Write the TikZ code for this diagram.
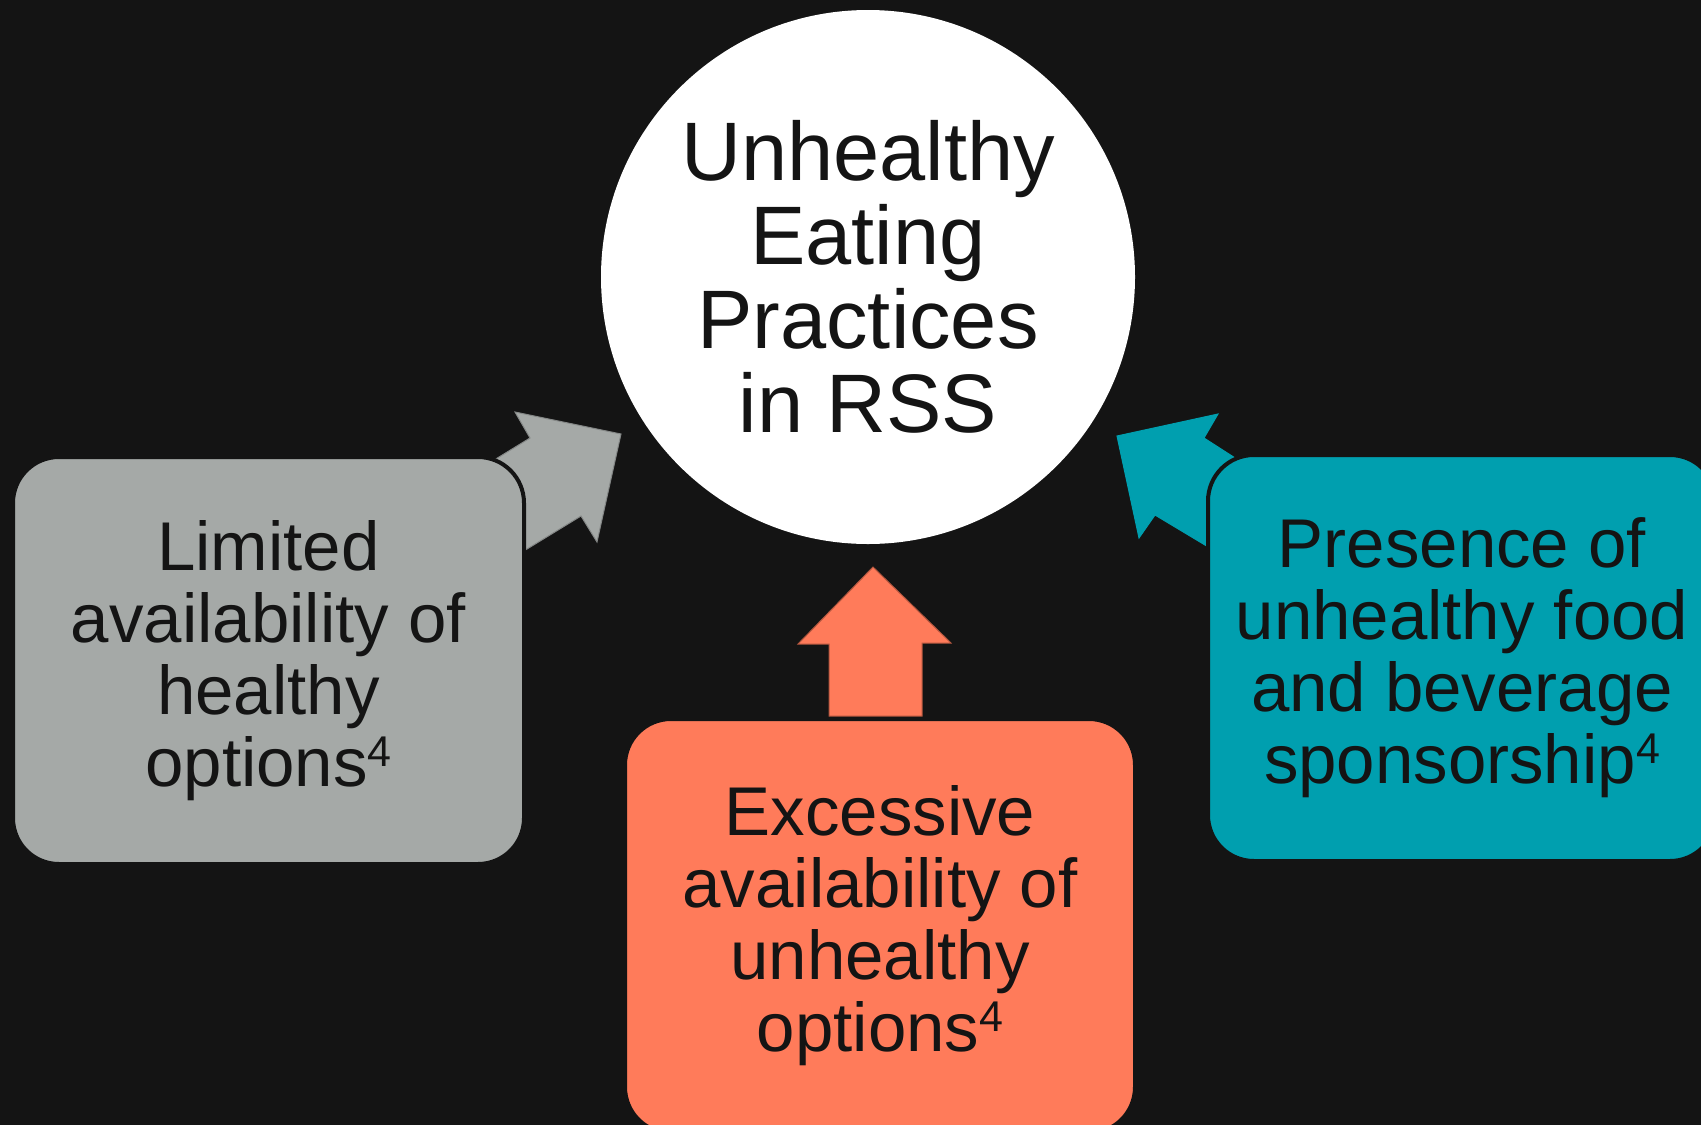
\documentclass[tikz,border=0pt]{standalone}
\usepackage{fontspec}
\setmainfont{Liberation Sans}
\definecolor{bgc}{HTML}{141414}
\definecolor{grayc}{HTML}{A5A9A7}
\definecolor{tealc}{HTML}{009FAF}
\definecolor{orangec}{HTML}{FF7B5A}
\definecolor{txt}{HTML}{141414}
\newcommand{\refmark}{\raisebox{20pt}{\fontsize{43}{43}\selectfont 4}}
\tikzset{
  factorbox/.style={rectangle, rounded corners=46pt, draw=bgc, line width=4pt,
    minimum width=#1, align=center, text=txt, inner sep=0pt,
    font=\fontsize{69}{72}\selectfont},
  centrecircle/.style={circle, fill=white, minimum size=534pt, inner sep=0pt,
    align=center, text=txt, font=\fontsize{83}{84}\selectfont},
  blockarrow/.style={line width=1pt, line join=miter}
}
\begin{document}
\begin{tikzpicture}[x=1pt,y=-1pt]
\useasboundingbox (0,0) rectangle (1701,1125);
\fill[bgc] (0,0) rectangle (1701,1125);

% central circle
\node[centrecircle] (core) at (868,277) {Unhealthy\\Eating\\Practices\\in RSS};

% block arrows (drawn before the boxes, so their tails hide behind them)
\fill[grayc, draw=grayc!80!black, blockarrow]
  (621,434) -- (515,412) -- (530,438) -- (460,481) -- (480,578)
  -- (527,549) -- (581,516) -- (597,542) -- cycle;
\fill[tealc, blockarrow, draw=tealc]
  (1117,436) -- (1218,414) -- (1204,438) -- (1260,474) -- (1240,566)
  -- (1205,545) -- (1155,515) -- (1139,538) -- cycle;
\fill[orangec, draw=orangec!70!black, blockarrow]
  (873,567) -- (951,643) -- (922,643) -- (922,716) -- (829,716)
  -- (829,644) -- (798,644) -- cycle;

% factor boxes
\node[factorbox=511pt, fill=grayc, minimum height=407pt] (limited) at (268.5,660.5)
  {Limited\\availability of\\healthy\\options\refmark};
\node[factorbox=508pt, fill=tealc, minimum height=406pt] (presence) at (1462,658)
  {Presence of\\unhealthy food\\and beverage\\sponsorship\refmark};
\node[factorbox=510pt, fill=orangec, minimum height=414pt] (excessive) at (880,926)
  {Excessive\\availability of\\unhealthy\\options\refmark};
\end{tikzpicture}
\end{document}
